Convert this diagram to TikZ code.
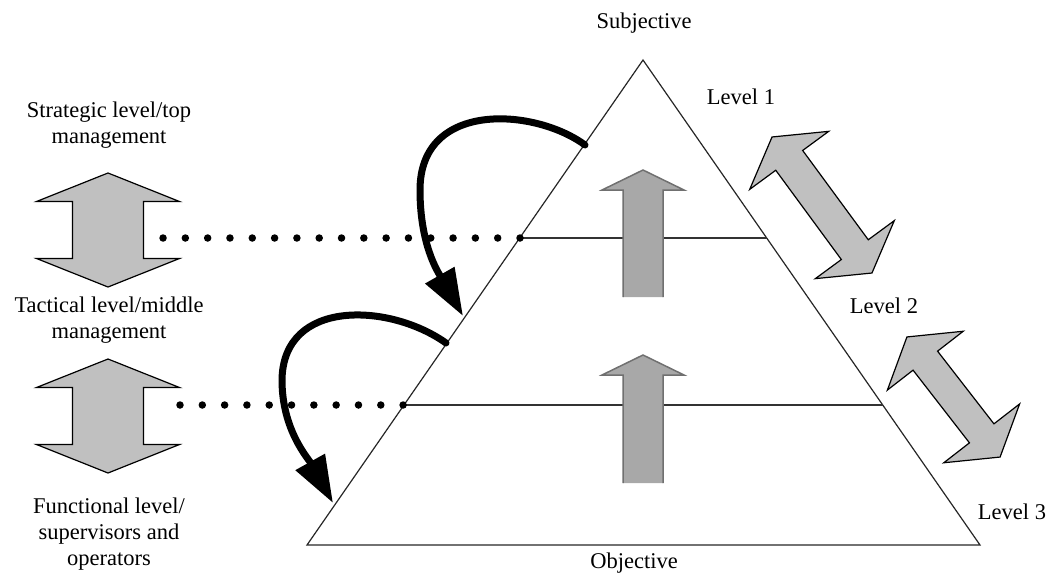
\documentclass[tikz,border=0pt]{standalone}
\usepackage{fontspec}
\setmainfont{Liberation Serif}
\usetikzlibrary{arrows.meta}

\definecolor{paleshade}{RGB}{192,192,192}
\definecolor{midshade}{RGB}{168,168,168}
\definecolor{rimshade}{RGB}{112,112,112}

\tikzset{
  lbl/.style={font=\fontsize{22.5}{26}\selectfont, inner sep=0pt, text=black},
  sidelbl/.style={lbl, align=center, anchor=north},
  edgeline/.style={line width=1.2pt, draw=black!85},
  levelline/.style={line width=1.8pt, draw=black!80},
  dotlink/.style={line width=7.5pt, line cap=round, dash pattern=on 0pt off 22.31pt},
  twoway/.style={fill=paleshade, draw=black, line width=1.2pt, line join=miter},
  upfill/.style={fill=midshade},
  uprim/.style={draw=rimshade, line width=1.5pt},
  bendarrow/.style={line width=7pt, line cap=round, -{Triangle[length=47pt,width=32pt]}}
}

% double-headed block arrow: centre, angle, half length, head length, head half width, shaft half width
\newcommand\twowayarrow[6]{%
  \begin{scope}[shift={#1}, rotate=#2]
    \draw[twoway] (#3,0) -- ({#3-#4},#5) -- ({#3-#4},#6) -- ({-#3+#4},#6)
      -- ({-#3+#4},#5) -- (-#3,0) -- ({-#3+#4},-#5) -- ({-#3+#4},-#6)
      -- ({#3-#4},-#6) -- ({#3-#4},-#5) -- cycle;
  \end{scope}}

% upward block arrow without a bottom edge: centre x, tip y, head base y, bottom y
\newcommand\risingarrow[4]{%
  \fill[upfill] (#1-20,#4) -- (#1-20,#3) -- (#1-41,#3) -- (#1,#2) -- (#1+41,#3)
    -- (#1+20,#3) -- (#1+20,#4) -- cycle;
  \draw[uprim] (#1-20,#4) -- (#1-20,#3) -- (#1-41,#3) -- (#1,#2) -- (#1+41,#3)
    -- (#1+20,#3) -- (#1+20,#4);}

\begin{document}
\begin{tikzpicture}[x=1pt, y=-1pt]
  \useasboundingbox (0,0) rectangle (1049,573);

  % pyramid
  \coordinate (apex) at (643,60);
  \coordinate (bl) at (307,545);
  \coordinate (br) at (980,545);
  \coordinate (cut1l) at (520,238);
  \coordinate (cut1r) at (767,238);
  \coordinate (cut2l) at (404,405);
  \coordinate (cut2r) at (883,405);
  \draw[edgeline, line join=miter] (apex) -- (bl) -- (br) -- cycle;
  \draw[levelline] (cut1l) -- (cut1r);
  \draw[levelline] (cut2l) -- (cut2r);

  % upward arrows inside the levels
  \risingarrow{643}{170}{190}{297}
  \risingarrow{643}{355}{375}{483}

  % dotted links from the side arrows to the level boundaries
  \coordinate (dot1) at (163.04,238);
  \coordinate (dot2) at (180,405);
  \draw[dotlink] (dot1) -- (cut1l);
  \draw[dotlink] (dot2) -- (cut2l);

  % side double arrows
  \twowayarrow{(108,230)}{90}{57}{28.5}{71.5}{35.5}
  \twowayarrow{(108,416)}{90}{57}{28.5}{71.5}{35.5}
  \twowayarrow{(822,205)}{-53.7}{84.4}{29}{49}{16.7}
  \twowayarrow{(953.5,397)}{-52.2}{76}{30}{48}{15.5}

  % curved feedback arrows
  \coordinate (s1) at (585,145);
  \coordinate (t1) at (463,316);
  \coordinate (s2) at (446,343);
  \coordinate (t2) at (333,503);
  \draw[bendarrow] (s1) .. controls (535,108) and (420,100) .. (420,190)
    .. controls (420,245) and (438,272) .. (t1);
  \draw[bendarrow] (s2) .. controls (390,303) and (283,298) .. (282,380)
    .. controls (282,430) and (308,458) .. (t2);

  % labels
  \node[lbl, anchor=base] (subj) at (644,28) {Subjective};
  \node[lbl, anchor=base] (obj) at (634,568) {Objective};
  \node[lbl, anchor=base] (lev1) at (741,104) {Level 1};
  \node[lbl, anchor=base] (lev2) at (884,313) {Level 2};
  \node[lbl, anchor=base] (lev3) at (1012,519) {Level 3};
  \node[sidelbl] (strat) at (109,102) {Strategic level/top\\management};
  \node[sidelbl] (tact) at (109,297) {Tactical level/middle\\management};
  \node[sidelbl] (func) at (109,498) {Functional level/\\supervisors and\\operators};
\end{tikzpicture}
\end{document}
